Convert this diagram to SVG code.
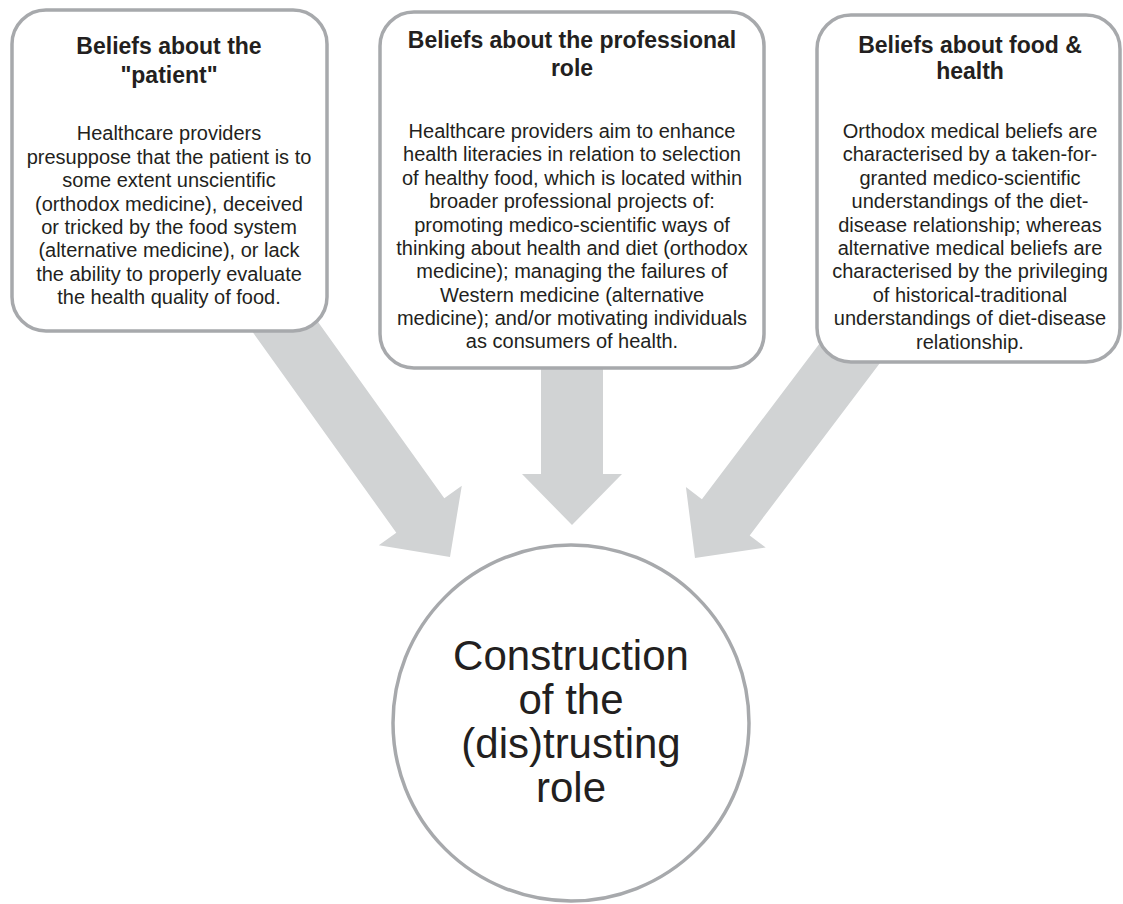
<svg xmlns="http://www.w3.org/2000/svg" width="1123" height="904" viewBox="0 0 1123 904">
  <style>
    .box { fill: #ffffff; stroke: #a7a9ac; stroke-width: 3.5; }
    .ring { fill: #ffffff; stroke: #a7a9ac; stroke-width: 3.5; }
    .arrow { fill: #d1d3d4; stroke: none; }
    .title { font-family: "Liberation Sans", Arial, sans-serif; font-weight: bold; font-size: 23px; fill: #231f20; text-anchor: middle; }
    .body { font-family: "Liberation Sans", Arial, sans-serif; font-size: 20px; fill: #231f20; text-anchor: middle; }
    .core { font-family: "Liberation Sans", Arial, sans-serif; font-size: 42px; fill: #231f20; text-anchor: middle; }
  </style>
  <rect width="1123" height="904" fill="#ffffff"/>

  <!-- block arrows, drawn first so the boxes sit on top of their tails -->
  <g id="connectors">
    <polygon class="arrow" points="269.7,254.4 444.3,498.3 461.8,485.8 450,557 378.8,545.2 396.3,532.7 221.7,288.8"/>
    <polygon class="arrow" points="541,300 603,300 603,474 622,474 572,525 522,474 541,474"/>
    <polygon class="arrow" points="930.6,296 749.7,535.4 765.7,547.5 695,558 685.9,487.1 701.9,499.2 882.8,259.8"/>
  </g>

  <g id="node-patient">
    <rect class="box" x="12" y="10" width="315" height="321" rx="34" ry="34"/>
    <text class="title" x="169" y="54">Beliefs about the</text>
    <text class="title" x="169" y="83">"patient"</text>
    <text class="body" x="169" y="140">Healthcare providers</text>
    <text class="body" x="169" y="164">presuppose that the patient is to</text>
    <text class="body" x="169" y="187">some extent unscientific</text>
    <text class="body" x="169" y="211">(orthodox medicine), deceived</text>
    <text class="body" x="169" y="234">or tricked by the food system</text>
    <text class="body" x="169" y="257">(alternative medicine), or lack</text>
    <text class="body" x="169" y="281">the ability to properly evaluate</text>
    <text class="body" x="169" y="304">the health quality of food.</text>
  </g>

  <g id="node-professional">
    <rect class="box" x="380" y="12" width="384" height="356" rx="34" ry="34"/>
    <text class="title" x="572" y="48">Beliefs about the professional</text>
    <text class="title" x="572" y="76">role</text>
    <text class="body" x="572" y="138">Healthcare providers aim to enhance</text>
    <text class="body" x="572" y="161">health literacies in relation to selection</text>
    <text class="body" x="572" y="185">of healthy food, which is located within</text>
    <text class="body" x="572" y="208">broader professional projects of:</text>
    <text class="body" x="572" y="232">promoting medico-scientific ways of</text>
    <text class="body" x="572" y="255">thinking about health and diet (orthodox</text>
    <text class="body" x="572" y="278">medicine); managing the failures of</text>
    <text class="body" x="572" y="302">Western medicine (alternative</text>
    <text class="body" x="572" y="325">medicine); and/or motivating individuals</text>
    <text class="body" x="572" y="348">as consumers of health.</text>
  </g>

  <g id="node-food-health">
    <rect class="box" x="817" y="15" width="303" height="347" rx="34" ry="34"/>
    <text class="title" x="970" y="53">Beliefs about food &amp;</text>
    <text class="title" x="970" y="79">health</text>
    <text class="body" x="970" y="138">Orthodox medical beliefs are</text>
    <text class="body" x="970" y="161">characterised by a taken-for-</text>
    <text class="body" x="970" y="185">granted medico-scientific</text>
    <text class="body" x="970" y="208">understandings of the diet-</text>
    <text class="body" x="970" y="232">disease relationship; whereas</text>
    <text class="body" x="970" y="255">alternative medical beliefs are</text>
    <text class="body" x="970" y="278">characterised by the privileging</text>
    <text class="body" x="970" y="302">of historical-traditional</text>
    <text class="body" x="970" y="325">understandings of diet-disease</text>
    <text class="body" x="970" y="349">relationship.</text>
  </g>

  <g id="node-distrusting-role">
    <circle class="ring" cx="571" cy="723" r="178"/>
    <text class="core" x="571" y="670">Construction</text>
    <text class="core" x="571" y="714">of the</text>
    <text class="core" x="571" y="758">(dis)trusting</text>
    <text class="core" x="571" y="802">role</text>
  </g>
</svg>
